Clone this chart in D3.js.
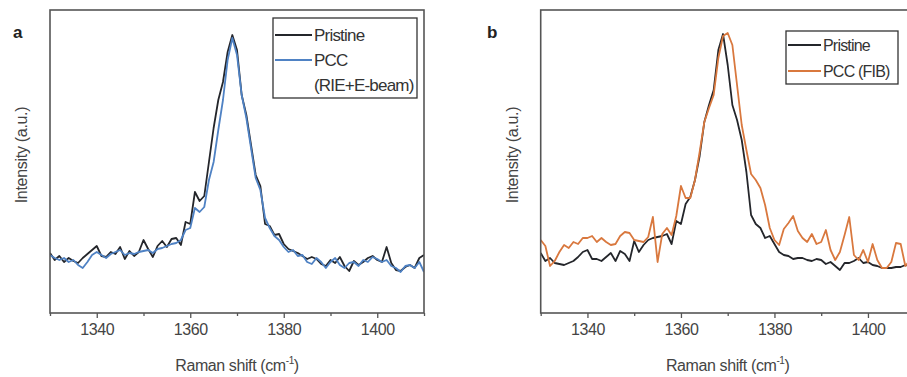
<!DOCTYPE html>
<html>
<head>
<meta charset="utf-8">
<script src="https://cdn.jsdelivr.net/npm/d3@7"></script>
<style>
  body { margin: 0; background: #fff; }
  svg { display: block; font-family: "Liberation Sans", Arial, sans-serif; }
  .tick text { fill: #444; font-size: 16px; letter-spacing: -0.4px; }
</style>
</head>
<body>
<svg id="chart" width="907" height="377"></svg>
<script>
// Raman shift (cm-1), 1 cm-1 steps
const shift = d3.range(1330, 1411);

// panel a
const pristineA = [60,53,57,51,55,52,50,55,59,63,67,57,56,61,59,66,54,62,57,61,
  73,64,56,67,72,66,74,75,68,91,89,121,112,117,151,185,213,231,261,278,
  263,218,198,168,138,127,89,87,78,79,69,64,62,60,57,54,56,54,49,47,
  53,50,56,47,42,52,48,51,55,57,53,51,66,50,43,42,46,48,45,55,58];
const pccA = [58,55,53,55,51,53,48,45,51,58,61,58,55,59,61,63,58,60,59,61,
  62,63,60,64,65,67,69,70,73,83,85,105,101,106,133,151,183,213,253,275,
  258,218,195,165,135,123,95,85,77,73,66,61,63,57,58,51,49,55,51,45,
  51,55,48,45,50,51,47,53,51,56,54,51,53,47,45,41,47,48,45,51,41];

// panel b
const pristineB = [60,52,55,50,49,48,50,52,56,61,63,54,54,52,56,60,52,62,59,52,
  72,61,68,73,75,76,77,79,69,92,89,109,116,133,157,191,208,223,263,279,
  248,208,193,173,141,98,89,85,75,77,69,61,58,57,54,55,55,53,52,54,
  53,49,51,47,43,50,50,52,55,50,51,48,47,45,45,45,46,46,48,47,47];
const pccB = [73,67,47,52,61,68,65,71,69,75,75,77,71,75,71,68,69,77,81,80,
  73,72,71,76,96,51,79,85,78,97,127,115,115,133,161,191,205,218,255,277,
  280,268,228,188,163,139,133,125,108,85,73,68,84,90,97,82,75,71,79,69,
  71,83,63,53,61,78,96,58,53,63,51,69,53,45,45,51,70,69,47,53,51];

const xTicks = [1340, 1360, 1380, 1400];
const xMinor = [1330, 1350, 1370, 1390, 1410];

const svg = d3.select('#chart');

function drawPanel(p) {
  const g = svg.append('g');
  const x = d3.scaleLinear().domain([1330, 1410]).range([p.left, p.right]);
  const y = d3.scaleLinear().domain([0, 303]).range([313, 10]);

  const clipId = 'clip-' + p.letter;
  g.append('clipPath').attr('id', clipId)
    .append('rect').attr('x', p.left).attr('y', 10)
    .attr('width', p.right - p.left).attr('height', 303);

  const line = d3.line().x((d, i) => x(shift[i])).y(d => y(d));
  p.series.forEach(s => {
    g.append('path')
      .attr('clip-path', `url(#${clipId})`)
      .attr('d', line(s.values))
      .attr('fill', 'none')
      .attr('stroke', s.color)
      .attr('stroke-width', 1.8)
      .attr('stroke-linejoin', 'round');
  });

  // frame
  g.append('rect')
    .attr('x', p.left).attr('y', 10)
    .attr('width', p.right - p.left).attr('height', 303)
    .attr('fill', 'none').attr('stroke', '#555').attr('stroke-width', 1.6);

  // x axis
  const ax = g.append('g').attr('transform', 'translate(0,313)')
    .call(d3.axisBottom(x).tickValues(xTicks).tickSize(5).tickPadding(6).tickFormat(d3.format('d')));
  ax.select('.domain').remove();
  ax.selectAll('.tick line').attr('stroke', '#555').attr('stroke-width', 1.3);
  g.append('g').attr('transform', 'translate(0,313)')
    .call(d3.axisBottom(x).tickValues(xMinor).tickSize(3).tickFormat(''))
    .call(a => a.select('.domain').remove())
    .selectAll('.tick line').attr('stroke', '#555').attr('stroke-width', 1.3);

  g.append('text')
    .attr('x', p.left + 187).attr('y', 371)
    .attr('text-anchor', 'middle').attr('font-size', 16).attr('fill', '#444')
    .attr('letter-spacing', -0.4)
    .html('Raman shift (cm<tspan dy="-7" font-size="10">-1</tspan><tspan dy="7">)</tspan>');

  g.append('text')
    .attr('transform', `translate(${p.left - 23},155) rotate(-90)`)
    .attr('text-anchor', 'middle').attr('font-size', 16).attr('fill', '#444')
    .attr('letter-spacing', -0.3)
    .text('Intensity (a.u.)');

  g.append('text')
    .attr('x', p.labelX).attr('y', 38)
    .attr('font-size', 17).attr('font-weight', 'bold').attr('fill', '#222')
    .text(p.letter);

  // legend
  const lg = p.legend;
  g.append('rect')
    .attr('x', lg.x).attr('y', lg.y).attr('width', lg.w).attr('height', lg.h)
    .attr('fill', '#fff').attr('stroke', '#333').attr('stroke-width', 1.3);
  p.series.forEach((s, i) => {
    const ly = lg.y + lg.first + i * lg.gap;
    g.append('line')
      .attr('x1', lg.x + 2).attr('x2', lg.x + lg.sample)
      .attr('y1', ly).attr('y2', ly)
      .attr('stroke', s.color).attr('stroke-width', 1.8);
    s.label.forEach((t, k) => {
      g.append('text')
        .attr('x', lg.x + lg.sample + 2).attr('y', ly + 6 + k * lg.gap)
        .attr('font-size', lg.font).attr('fill', '#333')
        .attr('letter-spacing', -0.8)
        .text(t);
    });
  });
}

drawPanel({
  letter: 'a', left: 50, right: 424, labelX: 13,
  series: [
    { values: pristineA, color: '#24262b', label: ['Pristine'] },
    { values: pccA, color: '#4f82c4', label: ['PCC', '(RIE+E-beam)'] }
  ],
  legend: { x: 273, y: 18, w: 144, h: 80, first: 17, gap: 25, sample: 39, font: 17 }
});

drawPanel({
  letter: 'b', left: 540.7, right: 914.7, labelX: 487,
  series: [
    { values: pristineB, color: '#24262b', label: ['Pristine'] },
    { values: pccB, color: '#d9783e', label: ['PCC (FIB)'] }
  ],
  legend: { x: 786, y: 31, w: 112, h: 53, first: 14, gap: 26, sample: 35, font: 16 }
});
</script>
</body>
</html>
